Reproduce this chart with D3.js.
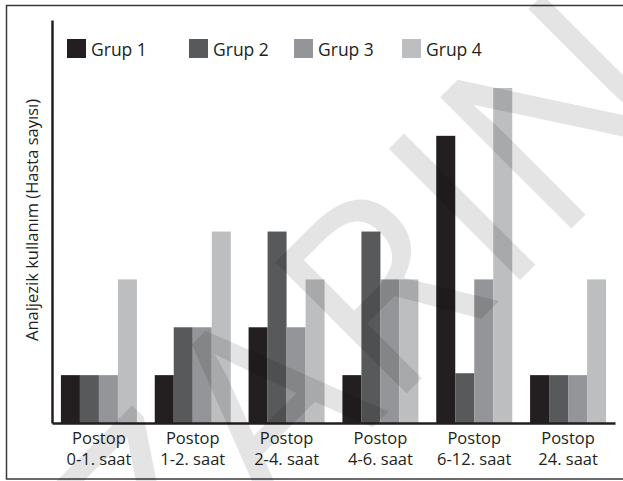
<!DOCTYPE html>
<html>
<head>
<meta charset="utf-8">
<script src="https://cdn.jsdelivr.net/npm/d3@7"></script>
<style>
  body { margin: 0; background: #fff; }
  text { font-family: "Open Sans", sans-serif; fill: #231f20; }
</style>
</head>
<body>
<div id="chart"></div>
<script>
const width = 623;
const height = 481;

// Data
const periods = ["0-1. saat", "1-2. saat", "2-4. saat", "4-6. saat", "6-12. saat", "24. saat"];
const groups = ["Grup 1", "Grup 2", "Grup 3", "Grup 4"];
const grup1 = [1, 1, 2, 1, 6, 1];
const grup2 = [1, 2, 4, 4, 1.04, 1];
const grup3 = [1, 2, 2, 3, 3, 1];
const grup4 = [3, 4, 3, 3, 7, 3];
const groupColors = ["#231f20", "#58595b", "#939598", "#bcbec0"];

const series = [grup1, grup2, grup3, grup4];
const data = periods.map((p, i) => ({ period: p, values: series.map(s => s[i]) }));

const svg = d3.select("#chart")
    .append("svg")
    .attr("width", width)
    .attr("height", height);

// outer frame
svg.append("rect")
    .attr("x", 6.5)
    .attr("y", 5.5)
    .attr("width", 640)
    .attr("height", 473.5)
    .attr("fill", "none")
    .attr("stroke", "#3a3a3a")
    .attr("stroke-width", 1.5);

// Scales
const x0 = d3.scaleBand()
    .domain(periods)
    .range([52, 615])
    .paddingInner(0.19)
    .paddingOuter(0.095);

const x1 = d3.scaleBand()
    .domain(groups)
    .range([0, x0.bandwidth()]);

const y = d3.scaleLinear()
    .domain([0, 8.42])
    .range([423, 20]);

const color = d3.scaleOrdinal().domain(groups).range(groupColors);

// Bars
svg.append("g")
    .selectAll("g")
    .data(data)
    .join("g")
    .attr("transform", d => `translate(${x0(d.period)},0)`)
    .selectAll("rect")
    .data(d => d.values.map((v, i) => ({ key: groups[i], value: v })))
    .join("rect")
    .attr("x", d => x1(d.key))
    .attr("y", d => y(d.value))
    .attr("width", x1.bandwidth())
    .attr("height", d => y(0) - y(d.value))
    .attr("fill", d => color(d.key));

// X axis
const xAxis = svg.append("g")
    .attr("transform", `translate(0,${y(0)})`)
    .call(d3.axisBottom(x0).tickSize(0).tickSizeOuter(0));
xAxis.select(".domain")
    .attr("stroke", "#231f20")
    .attr("stroke-width", 2.5);
xAxis.selectAll(".tick text")
    .attr("font-size", 16.5)
    .attr("fill", "#231f20")
    .attr("y", 0)
    .attr("dy", null)
    .each(function(d) {
        const t = d3.select(this).text("");
        t.append("tspan").attr("x", 0).attr("y", 21).text("Postop");
        t.append("tspan").attr("x", 0).attr("y", 42).text(d);
    });

// Y axis (line only)
const yAxis = svg.append("g")
    .attr("transform", "translate(52,0)")
    .call(d3.axisLeft(y).ticks(0).tickSizeOuter(0));
yAxis.select(".domain")
    .attr("stroke", "#231f20")
    .attr("stroke-width", 2.5);

// Y axis label
svg.append("text")
    .attr("transform", "translate(38,220) rotate(-90)")
    .attr("text-anchor", "middle")
    .attr("font-size", 16.5)
    .text("Analjezik kullanım (Hasta sayısı)");

// Legend
const legendX = [67, 189, 294, 402];
const legend = svg.append("g")
    .selectAll("g")
    .data(groups)
    .join("g")
    .attr("transform", (d, i) => `translate(${legendX[i]},39)`);

legend.append("rect")
    .attr("width", 19)
    .attr("height", 19)
    .attr("fill", d => color(d));

legend.append("text")
    .attr("x", 24)
    .attr("y", 16.5)
    .attr("font-size", 17.5)
    .text(d => d);

// Watermark
svg.append("text")
    .attr("transform", "translate(320,480) rotate(-45)")
    .attr("text-anchor", "middle")
    .attr("font-size", 260)
    .style("fill", "#000")
    .style("opacity", 0.1)
    .text("YAZARIN");
</script>
</body>
</html>
